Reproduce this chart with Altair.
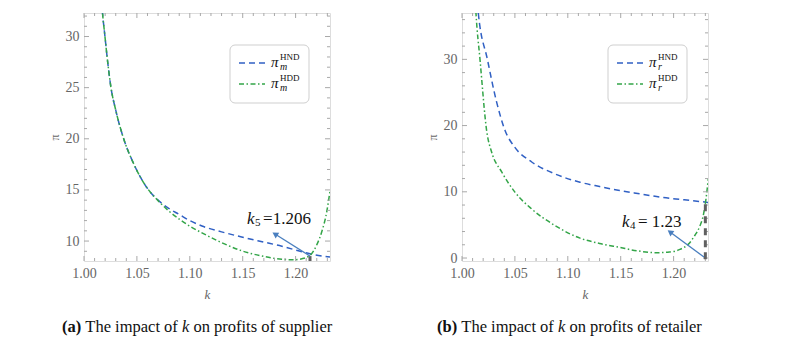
import altair as alt
import pandas as pd

FONT = "'Liberation Serif', 'Times New Roman', serif"
BLUE = "#3060c4"
GREEN = "#33a548"
ARROW = "#4a7fbf"
FRAME = "#a8a8a8"
LABEL = "#666666"

# ---------------- data ----------------
series_names = ["HND", "HDD"]

a_hnd_k = [1.016, 1.0175, 1.0195, 1.0225, 1.0255, 1.03, 1.0375, 1.047, 1.061, 1.07, 1.08, 1.09,
           1.10, 1.1115, 1.13, 1.149, 1.17, 1.187, 1.206, 1.2136, 1.2325]
a_hnd_v = [34.5, 32.3, 30.3, 27.4, 25.0, 22.8, 20.0, 17.55, 15.0, 14.0, 13.2, 12.6,
           12.0, 11.47, 10.9, 10.4, 9.9, 9.5, 8.95, 8.75, 8.43]
a_hdd_k = [1.016, 1.0175, 1.0195, 1.0225, 1.0255, 1.03, 1.0375, 1.047, 1.061, 1.07, 1.08, 1.09,
           1.10, 1.1115, 1.13, 1.149, 1.17, 1.187, 1.198, 1.206, 1.2136, 1.2203, 1.225, 1.2295, 1.2325]
a_hdd_v = [34.5, 32.3, 30.3, 27.4, 25.0, 22.8, 20.0, 17.55, 15.0, 13.95, 12.95, 12.15,
           11.45, 10.8, 9.85, 9.05, 8.5, 8.22, 8.17, 8.27, 8.6, 9.7, 11.0, 12.9, 14.9]

b_hnd_k = [1.0145, 1.0154, 1.024, 1.0328, 1.0406, 1.05, 1.0659, 1.0879, 1.1115, 1.13, 1.149,
           1.17, 1.187, 1.21, 1.2325]
b_hnd_v = [38.5, 37.0, 30.0, 23.5, 19.3, 16.7, 14.5, 12.7, 11.45, 10.8, 10.2,
           9.65, 9.2, 8.8, 8.4]
b_hdd_k = [1.0125, 1.0132, 1.017, 1.0235, 1.028, 1.0375, 1.05, 1.0659, 1.0879, 1.1115, 1.13,
           1.149, 1.165, 1.184, 1.196, 1.206, 1.214, 1.22, 1.225, 1.228, 1.2305, 1.2328]
b_hdd_v = [39.0, 37.0, 30.0, 19.0, 16.0, 13.0, 9.95, 7.4, 4.9, 3.0, 2.2,
           1.6, 1.1, 0.8, 0.9, 1.3, 2.1, 3.4, 4.9, 6.4, 8.8, 12.0]

x_domain = [1.0, 1.2325]
a_y_domain = [8.05, 32.3]
b_y_domain = [-0.45, 37.0]

x_major = [1.00, 1.05, 1.10, 1.15, 1.20]
x_minor = [1.01, 1.02, 1.03, 1.04, 1.06, 1.07, 1.08, 1.09, 1.11, 1.12, 1.13, 1.14,
           1.16, 1.17, 1.18, 1.19, 1.21, 1.22, 1.23]
a_y_major = [10, 15, 20, 25, 30]
a_y_minor = [9, 11, 12, 13, 14, 16, 17, 18, 19, 21, 22, 23, 24, 26, 27, 28, 29, 31, 32]
b_y_major = [0, 10, 20, 30]
b_y_minor = [2, 4, 6, 8, 12, 14, 16, 18, 22, 24, 26, 28, 32, 34, 36]

# annotations: marker line, arrow (tail -> head), label
a_mark_k, a_mark_v = 1.2136, [8.05, 8.53]
a_arrow_k, a_arrow_v = [1.2136, 1.1805], [8.53, 10.69]
a_label_k, a_label_v, a_label_sub, a_label_rest = 1.1541, 12.16, "5", "=1.206"
b_mark_k, b_mark_v = 1.23, [-0.2, 8.45]
b_arrow_k, b_arrow_v = [1.2287, 1.1966], [0.15, 3.92]
b_label_k, b_label_v, b_label_sub, b_label_rest = 1.1512, 5.43, "4", "= 1.23"

W, H = 246, 248


def one(**kw):
    return pd.DataFrame({k: [v] for k, v in kw.items()})


def text_layer(txt, x, y, size, style="normal", weight="normal", color="#111", baseline="alphabetic"):
    return alt.Chart(one(t=txt)).mark_text(
        align="left", baseline=baseline, font=FONT, fontSize=size,
        fontStyle=style, fontWeight=weight, color=color
    ).encode(x=alt.value(x), y=alt.value(y), text="t:N")


def panel(hk, hv, dk, dv, ydom, ymaj, ymin, sub, mark_k, mark_v, arr_k, arr_v, arr_angle,
          lab_k, lab_v, lab_sub, lab_rest, caption_parts, ytitle_pad):
    xs = alt.Scale(domain=x_domain, nice=False, zero=False)
    ys = alt.Scale(domain=ydom, nice=False, zero=False)
    df = pd.concat([
        pd.DataFrame({"k": hk, "v": hv, "s": "HND"}),
        pd.DataFrame({"k": dk, "v": dv, "s": "HDD"}),
    ])
    xaxis = alt.Axis(values=x_major, format=".2f", title="k", ticks=False, domain=False, grid=False,
                     labelFont=FONT, labelFontSize=14, labelColor=LABEL, labelPadding=5,
                     labelFlush=False, titleFont=FONT, titleFontSize=13, titleFontStyle="italic",
                     titleFontWeight="normal", titleColor=LABEL, titlePadding=8)
    yaxis = alt.Axis(values=ymaj, format="d", title="π", ticks=False, domain=False, grid=False,
                     labelFont=FONT, labelFontSize=14, labelColor=LABEL, labelPadding=5,
                     titleFont=FONT, titleFontSize=12, titleFontWeight="normal",
                     titleColor=LABEL, titlePadding=ytitle_pad)
    lines = alt.Chart(df).mark_line(clip=True, strokeWidth=1.5, interpolate="monotone").encode(
        x=alt.X("k:Q", scale=xs, axis=xaxis),
        y=alt.Y("v:Q", scale=ys, axis=yaxis),
        color=alt.Color("s:N", scale=alt.Scale(domain=series_names, range=[BLUE, GREEN]), legend=None),
        strokeDash=alt.StrokeDash("s:N", scale=alt.Scale(domain=series_names,
                                                          range=[[6, 4], [5, 2.5, 1.5, 2.5]]), legend=None),
    )
    layers = [lines]
    # frame ticks
    for vals, ln in ((x_major, 5), (x_minor, 3)):
        d = pd.DataFrame({"k": vals})
        layers.append(alt.Chart(d).mark_rule(color=FRAME, strokeWidth=1).encode(
            x=alt.X("k:Q", scale=xs), y=alt.value(H), y2=alt.value(H - ln)))
        layers.append(alt.Chart(d).mark_rule(color=FRAME, strokeWidth=1).encode(
            x=alt.X("k:Q", scale=xs), y=alt.value(0), y2=alt.value(ln)))
    for vals, ln in ((ymaj, 5), (ymin, 3)):
        d = pd.DataFrame({"v": vals})
        layers.append(alt.Chart(d).mark_rule(color=FRAME, strokeWidth=1).encode(
            y=alt.Y("v:Q", scale=ys), x=alt.value(0), x2=alt.value(ln)))
        layers.append(alt.Chart(d).mark_rule(color=FRAME, strokeWidth=1).encode(
            y=alt.Y("v:Q", scale=ys), x=alt.value(W), x2=alt.value(W - ln)))
    # marker line
    layers.append(alt.Chart(one(k=mark_k, v1=mark_v[0], v2=mark_v[1])).mark_rule(
        color="#606060", strokeWidth=3, strokeDash=[7, 5]).encode(
        x=alt.X("k:Q", scale=xs), y=alt.Y("v1:Q", scale=ys), y2="v2:Q"))
    # arrow
    layers.append(alt.Chart(one(k1=arr_k[0], v1=arr_v[0], k2=arr_k[1], v2=arr_v[1])).mark_rule(
        color=ARROW, strokeWidth=1.3).encode(
        x=alt.X("k1:Q", scale=xs), y=alt.Y("v1:Q", scale=ys), x2="k2:Q", y2="v2:Q"))
    layers.append(alt.Chart(one(k=arr_k[1], v=arr_v[1])).mark_point(
        shape="triangle-up", filled=True, size=45, angle=arr_angle, color=ARROW, opacity=1).encode(
        x=alt.X("k:Q", scale=xs), y=alt.Y("v:Q", scale=ys)))
    # annotation label
    for txt, dx, dy, size, style in (("k", 0, 0, 17, "italic"), (lab_sub, 8, 4, 11, "normal"),
                                     (lab_rest, 16, 0, 17, "normal")):
        layers.append(alt.Chart(one(k=lab_k, v=lab_v, t=txt)).mark_text(
            align="left", baseline="middle", font=FONT, fontSize=size, fontStyle=style,
            color="#111", dx=dx, dy=dy).encode(
            x=alt.X("k:Q", scale=xs), y=alt.Y("v:Q", scale=ys), text="t:N"))
    # legend box
    layers.append(alt.Chart(one(a=0)).mark_rect(
        fill="white", stroke="#cfcfcf", strokeWidth=1, cornerRadius=5).encode(
        x=alt.value(146), x2=alt.value(225), y=alt.value(32), y2=alt.value(90)))
    for yy, col, dash, sup in ((50, BLUE, [6, 4], "HND"), (71, GREEN, [5, 2.5, 1.5, 2.5], "HDD")):
        layers.append(alt.Chart(one(a=0)).mark_rule(color=col, strokeWidth=1.5, strokeDash=dash).encode(
            x=alt.value(155), x2=alt.value(181), y=alt.value(yy)))
        layers.append(text_layer("π", 187, yy + 4, 15, style="italic"))
        layers.append(text_layer(sub, 196, yy + 7, 10, style="italic"))
        layers.append(text_layer(sup, 196, yy - 3, 9))
    # caption
    for txt, x, weight, style in caption_parts:
        layers.append(text_layer(txt, x, 319, 16.5, style=style, weight=weight))
    return alt.layer(*layers).properties(width=W, height=H)


cap_a = [("(a)", -22, "bold", "normal"), ("The impact of", 1.3, "normal", "normal"),
         ("k", 98.0, "normal", "italic"), ("on profits of supplier", 109.4, "normal", "normal")]
cap_b = [("(b)", -25, "bold", "normal"), ("The impact of", -0.7, "normal", "normal"),
         ("k", 96.0, "normal", "italic"), ("on profits of retailer", 107.4, "normal", "normal")]

pa = panel(a_hnd_k, a_hnd_v, a_hdd_k, a_hdd_v, a_y_domain, a_y_major, a_y_minor, "m",
           a_mark_k, a_mark_v, a_arrow_k, a_arrow_v, 302, a_label_k, a_label_v, a_label_sub,
           a_label_rest, cap_a, 4)
pb = panel(b_hnd_k, b_hnd_v, b_hdd_k, b_hdd_v, b_y_domain, b_y_major, b_y_minor, "r",
           b_mark_k, b_mark_v, b_arrow_k, b_arrow_v, 306, b_label_k, b_label_v, b_label_sub,
           b_label_rest, cap_b, 4)

chart = alt.hconcat(pa, pb, spacing=92).properties(
    padding={"left": 39, "top": 4, "right": 0, "bottom": 0}
).configure_view(stroke=FRAME, strokeWidth=1).configure(background="white")

chart.save("out.html", embed_options={"renderer": "svg", "actions": False})
